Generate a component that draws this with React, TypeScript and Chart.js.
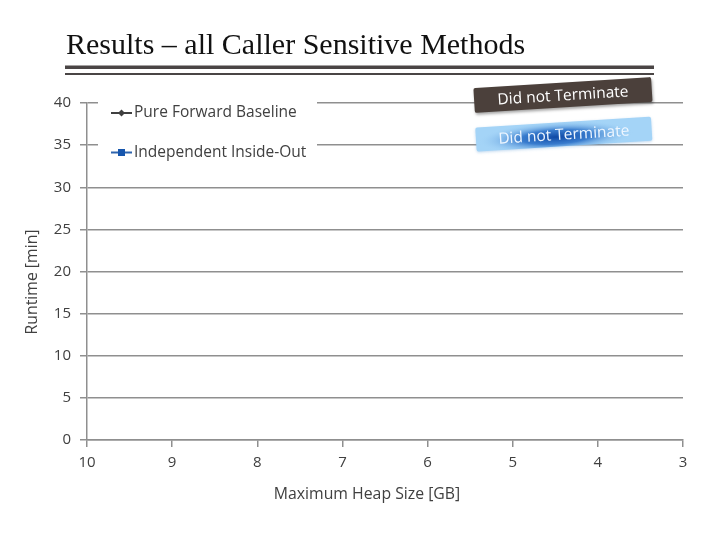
import { useEffect, useRef } from 'react';
import { Chart, registerables } from 'chart.js';

Chart.register(...registerables);

// ---- data ----
const heapSizes = [10, 9, 8, 7, 6, 5, 4, 3];
// No run terminated, so neither series has a plotted value
const pureForwardBaseline: (number | null)[] = [null, null, null, null, null, null, null, null];
const independentInsideOut: (number | null)[] = [null, null, null, null, null, null, null, null];
const seriesNames = ['Pure Forward Baseline', 'Independent Inside-Out'];
const yMin = 0;
const yMax = 40;
const yStep = 5;
const chartTitle = 'Results \u2013 all Caller Sensitive Methods';
const xTitle = 'Maximum Heap Size [GB]';
const yTitle = 'Runtime [min]';
const bannerTexts = ['Did not Terminate', 'Did not Terminate'];
const bannerHeap = [4.41, 4.4];
const bannerRuntime = [40.95, 36.3];

const FONT = '"Open Sans", "DejaVu Sans", sans-serif';
const TEXT = '#404040';
const GRID = '#8f8f8f';

function roundRectPath(ctx: CanvasRenderingContext2D, x: number, y: number, w: number, h: number, r: number) {
  ctx.beginPath();
  ctx.moveTo(x + r, y);
  ctx.lineTo(x + w - r, y);
  ctx.quadraticCurveTo(x + w, y, x + w, y + r);
  ctx.lineTo(x + w, y + h - r);
  ctx.quadraticCurveTo(x + w, y + h, x + w - r, y + h);
  ctx.lineTo(x + r, y + h);
  ctx.quadraticCurveTo(x, y + h, x, y + h - r);
  ctx.lineTo(x, y + r);
  ctx.quadraticCurveTo(x, y, x + r, y);
  ctx.closePath();
}

function drawBanner(ctx: CanvasRenderingContext2D, cx: number, cy: number, w: number, h: number, kind: 'dark' | 'blue', text: string) {
  ctx.save();
  ctx.translate(cx, cy);
  ctx.rotate(-0.062);
  if (kind === 'dark') {
    ctx.shadowColor = 'rgba(0,0,0,0.35)';
    ctx.shadowBlur = 3;
    ctx.shadowOffsetX = 1;
    ctx.shadowOffsetY = 2;
    ctx.fillStyle = '#4b403b';
    roundRectPath(ctx, -w / 2, -h / 2, w, h, 2);
    ctx.fill();
    ctx.shadowColor = 'transparent';
    ctx.fillStyle = '#ffffff';
  } else {
    ctx.shadowColor = 'rgba(120,170,220,0.45)';
    ctx.shadowBlur = 3;
    ctx.shadowOffsetY = 1;
    ctx.fillStyle = '#a4d4f7';
    roundRectPath(ctx, -w / 2, -h / 2, w, h, 2);
    ctx.fill();
    ctx.shadowColor = 'transparent';
    ctx.save();
    roundRectPath(ctx, -w / 2, -h / 2, w, h, 2);
    ctx.clip();
    ctx.scale(1, 0.2);
    const g = ctx.createRadialGradient(-8, 12, 0, -8, 12, 78);
    g.addColorStop(0, 'rgba(14,72,165,1)');
    g.addColorStop(0.45, 'rgba(38,108,198,0.85)');
    g.addColorStop(1, 'rgba(164,212,247,0)');
    ctx.fillStyle = g;
    ctx.fillRect(-w / 2, -h * 6, w, h * 12);
    ctx.restore();
    ctx.fillStyle = '#eef6ff';
  }
  ctx.font = `15.5px ${FONT}`;
  ctx.textAlign = 'center';
  ctx.textBaseline = 'middle';
  ctx.fillText(text, 0, 1);
  ctx.restore();
}

const overlayPlugin = {
  id: 'overlay',
  afterDraw(chart: any) {
    const { ctx, chartArea, scales } = chart;
    const xs = scales.x;
    const ys = scales.y;
    ctx.save();

    // title and double rule
    ctx.fillStyle = '#111111';
    ctx.font = '30px "Liberation Serif", "DejaVu Serif", serif';
    ctx.textAlign = 'left';
    ctx.textBaseline = 'alphabetic';
    ctx.fillText(chartTitle, 66, 54);
    ctx.fillStyle = '#4a4545';
    ctx.fillRect(65, 65.5, 589, 3.5);
    ctx.fillRect(65, 73, 589, 2);

    // axis titles
    ctx.fillStyle = TEXT;
    ctx.font = `15.8px ${FONT}`;
    ctx.textAlign = 'center';
    ctx.textBaseline = 'middle';
    ctx.fillText(xTitle, 367, 494);
    ctx.save();
    ctx.translate(32, 282);
    ctx.rotate(-Math.PI / 2);
    ctx.fillText(yTitle, 0, 0);
    ctx.restore();

    // legend inside plot area
    const lx = chartArea.left + 11;
    const ly = chartArea.top + 10;
    ctx.fillStyle = '#ffffff';
    ctx.fillRect(chartArea.left + 11, chartArea.top - 7, 219, 70);
    chart.data.datasets.forEach((ds: any, i: number) => {
      const y = ly + i * 39.5;
      ctx.strokeStyle = ds.borderColor;
      ctx.lineWidth = 2;
      ctx.beginPath();
      ctx.moveTo(lx + 13, y);
      ctx.lineTo(lx + 34, y);
      ctx.stroke();
      ctx.fillStyle = ds.pointBackgroundColor;
      const mx = lx + 23.5;
      if (ds.pointStyle === 'rectRot') {
        ctx.beginPath();
        ctx.moveTo(mx, y - 3.5);
        ctx.lineTo(mx + 3.5, y);
        ctx.lineTo(mx, y + 3.5);
        ctx.lineTo(mx - 3.5, y);
        ctx.closePath();
        ctx.fill();
      } else {
        ctx.fillRect(mx - 3.5, y - 3.5, 7, 7);
      }
      ctx.fillStyle = TEXT;
      ctx.font = `15.5px ${FONT}`;
      ctx.textAlign = 'left';
      ctx.textBaseline = 'middle';
      ctx.fillText(ds.label, lx + 36, y);
    });

    // "Did not Terminate" banners
    bannerTexts.forEach((t, i) => {
      const cx = xs.getPixelForValue(bannerHeap[i]);
      const cy = ys.getPixelForValue(bannerRuntime[i]);
      drawBanner(ctx, cx, cy, i === 0 ? 178 : 176, i === 0 ? 25 : 24, i === 0 ? 'dark' : 'blue', t);
    });

    ctx.restore();
  },
};

export default function App() {
  const ref = useRef<HTMLCanvasElement | null>(null);

  useEffect(() => {
    if (!ref.current) return;
    const chart = new Chart(ref.current, {
      type: 'line',
      data: {
        datasets: [
          {
            label: seriesNames[0],
            data: heapSizes.map((h, i) => ({ x: h, y: pureForwardBaseline[i] })) as any,
            borderColor: '#404040',
            backgroundColor: '#404040',
            pointBackgroundColor: '#404040',
            pointStyle: 'rectRot',
            borderWidth: 2,
          },
          {
            label: seriesNames[1],
            data: heapSizes.map((h, i) => ({ x: h, y: independentInsideOut[i] })) as any,
            borderColor: '#2e64ad',
            backgroundColor: '#1656ad',
            pointBackgroundColor: '#1656ad',
            pointStyle: 'rect',
            borderWidth: 2,
          },
        ],
      },
      options: {
        responsive: false,
        animation: false,
        devicePixelRatio: 1,
        layout: { padding: { top: 103, right: 37, left: 0, bottom: 0 } },
        plugins: {
          legend: { display: false },
          title: { display: false },
          tooltip: { enabled: false },
        },
        scales: {
          x: {
            type: 'linear',
            reverse: true,
            min: heapSizes[heapSizes.length - 1],
            max: heapSizes[0],
            afterFit: (s: any) => { s.height = 100; },
            ticks: {
              stepSize: 1,
              padding: 7,
              color: TEXT,
              font: { family: FONT, size: 15 },
            },
            grid: { drawOnChartArea: false, drawTicks: true, tickLength: 7, color: GRID, lineWidth: 1.5 },
            border: { display: true, color: GRID, width: 1.5 },
          },
          y: {
            type: 'linear',
            min: yMin,
            max: yMax,
            afterFit: (s: any) => { s.width = 87; },
            ticks: {
              stepSize: yStep,
              padding: 9,
              color: TEXT,
              font: { family: FONT, size: 15 },
            },
            grid: { drawTicks: true, tickLength: 7, color: GRID, lineWidth: 1.5 },
            border: { display: true, color: GRID, width: 1.5 },
          },
        },
      },
      plugins: [overlayPlugin],
    });
    return () => chart.destroy();
  }, []);

  return (
    <div style={{ position: 'fixed', left: 0, top: 0, width: 720, height: 540, background: '#fff' }}>
      <canvas ref={ref} width={720} height={540} style={{ display: 'block', width: 720, height: 540 }} />
    </div>
  );
}
